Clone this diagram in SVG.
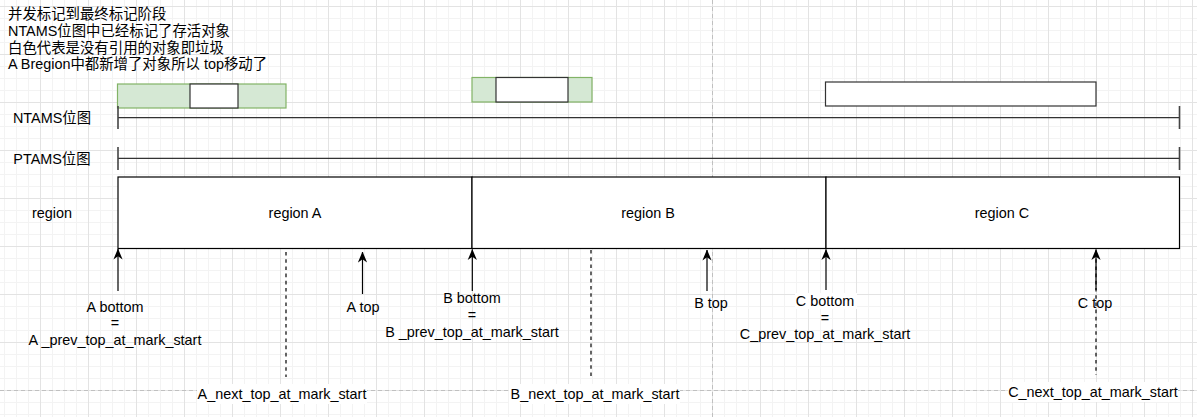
<svg xmlns="http://www.w3.org/2000/svg" width="1197" height="417" viewBox="0 0 1197 417">
<style>
text{font-family:"Liberation Sans","Noto Sans CJK SC",sans-serif;font-size:14.4px;fill:#000}
.c{text-anchor:middle}
.box{stroke:#000;stroke-width:1.2;fill:#fff}
.green{fill:#d5e8d4;stroke:#82b366;stroke-width:1.2}
.wbox{fill:#fff;stroke:#333;stroke-width:1.2}
.axis{stroke:#333;stroke-width:1.2;fill:none}
.tick{stroke:#444;stroke-width:1.6}
.arr{stroke:#000;stroke-width:1.2;fill:none;marker-end:url(#ah)}
.dash{stroke:#000;stroke-width:1.2;stroke-dasharray:3.6 3.6;fill:none}
.page{stroke:#c0c0c0;stroke-width:1;stroke-dasharray:4 3;fill:none}
.lbg{fill:#fff}
</style>
<defs>
<pattern id="minor" x="4" y="6" width="12" height="12" patternUnits="userSpaceOnUse">
<path d="M0.5,0 V12 M0,0.5 H12" stroke="#f3f3f3" stroke-width="1" fill="none"/>
</pattern>
<pattern id="major" x="40" y="6" width="48" height="48" patternUnits="userSpaceOnUse">
<path d="M0.5,0 V48 M0,0.5 H48" stroke="#e3e3e3" stroke-width="1" fill="none"/>
</pattern>
<marker id="ah" viewBox="0 0 11 10" refX="10.5" refY="5" markerWidth="11" markerHeight="10" orient="auto" markerUnits="userSpaceOnUse">
<path d="M0,0.4 L11,5 L0,9.6 L3.2,5 z" fill="#000"/>
</marker>
</defs>
<rect width="1197" height="417" fill="#fff"/>
<rect width="1197" height="417" fill="url(#minor)"/>
<rect width="1197" height="417" fill="url(#major)"/>
<path class="page" d="M712.5,0 V417 M0,390.5 H1197"/>

<g id="notes">
<text x="8" y="19">并发标记到最终标记阶段</text>
<text x="8" y="36">NTAMS位图中已经标记了存活对象</text>
<text x="8" y="52.5">白色代表是没有引用的对象即垃圾</text>
<text x="8" y="69">A Bregion中都新增了对象所以 top移动了</text>
</g>

<g id="row-labels">
<text class="c" x="52" y="123">NTAMS位图</text>
<text class="c" x="52" y="164">PTAMS位图</text>
<text class="c" x="52" y="218">region</text>
</g>

<g id="ntams-a">
<rect class="green" x="117.5" y="84" width="168.5" height="24"/>
<rect class="wbox" x="190" y="84" width="48" height="24"/>
</g>
<g id="ntams-b">
<rect class="green" x="472" y="77.5" width="120" height="24.5"/>
<rect class="wbox" x="496" y="77.5" width="72" height="24.5"/>
</g>
<g id="ntams-c">
<rect class="wbox" x="825.5" y="82" width="270.5" height="24" stroke="#666"/>
</g>

<g id="ntams-bitmap">
<line class="axis" x1="118" y1="117.7" x2="1179.5" y2="117.7" stroke="#555"/>
<line class="tick" x1="118" y1="106" x2="118" y2="129"/>
<line class="tick" x1="1179.5" y1="106" x2="1179.5" y2="129"/>
</g>
<g id="ptams-bitmap">
<line class="axis" x1="118" y1="158.3" x2="1179.5" y2="158.3" stroke="#111"/>
<line class="tick" x1="118" y1="147" x2="118" y2="170"/>
<line class="tick" x1="1179.5" y1="147" x2="1179.5" y2="170"/>
</g>

<g id="region-a">
<rect class="box" x="118" y="177" width="354" height="71.5"/>
<text class="c" x="295" y="218">region A</text>
</g>
<g id="region-b">
<rect class="box" x="472" y="177" width="354" height="71.5"/>
<text class="c" x="648" y="218">region B</text>
</g>
<g id="region-c">
<rect class="box" x="826" y="177" width="353.5" height="71.5"/>
<text class="c" x="1002" y="218">region C</text>
</g>

<g id="connectors">
<line class="arr" x1="118" y1="291" x2="118" y2="249"/>
<line class="arr" x1="362.5" y1="294" x2="362.5" y2="252"/>
<line class="dash" x1="286" y1="252" x2="286" y2="377"/>
<line class="arr" x1="472.3" y1="291" x2="472.3" y2="249.5"/>
<line class="dash" x1="591" y1="250" x2="591" y2="376"/>
<line class="arr" x1="707" y1="291" x2="707" y2="250"/>
<line class="arr" x1="826" y1="290" x2="826" y2="249.5"/>
<line class="dash" x1="1096" y1="252" x2="1096" y2="375"/>
<line class="arr" x1="1096" y1="290" x2="1096" y2="249.5"/>
</g>

<g id="label-a-bottom">
<text class="c" x="115" y="312">A bottom</text>
<text class="c" x="115" y="328">=</text>
<text class="c" x="115" y="344.5">A _prev_top_at_mark_start</text>
</g>
<g id="label-a-top">
<text class="c" x="363" y="312">A top</text>
</g>
<g id="label-a-next">
<rect class="lbg" x="197" y="384" width="170" height="20"/>
<text class="c" x="282" y="399">A_next_top_at_mark_start</text>
</g>
<g id="label-b-bottom">
<text class="c" x="472" y="303">B bottom</text>
<text class="c" x="472" y="320">=</text>
<text class="c" x="472" y="337">B _prev_top_at_mark_start</text>
</g>
<g id="label-b-top">
<text class="c" x="711" y="308">B top</text>
</g>
<g id="label-b-next">
<rect class="lbg" x="509" y="384" width="171" height="20"/>
<text class="c" x="595" y="399">B_next_top_at_mark_start</text>
</g>
<g id="label-c-bottom">
<rect class="lbg" x="795" y="293" width="62" height="16"/>
<text class="c" x="825" y="306">C bottom</text>
<text class="c" x="825" y="323">=</text>
<text class="c" x="825" y="339">C_prev_top_at_mark_start</text>
</g>
<g id="label-c-top">
<text class="c" x="1095" y="308">C top</text>
</g>
<g id="label-c-next">
<rect class="lbg" x="1008" y="382" width="170" height="20"/>
<text class="c" x="1093" y="397">C_next_top_at_mark_start</text>
</g>
</svg>
